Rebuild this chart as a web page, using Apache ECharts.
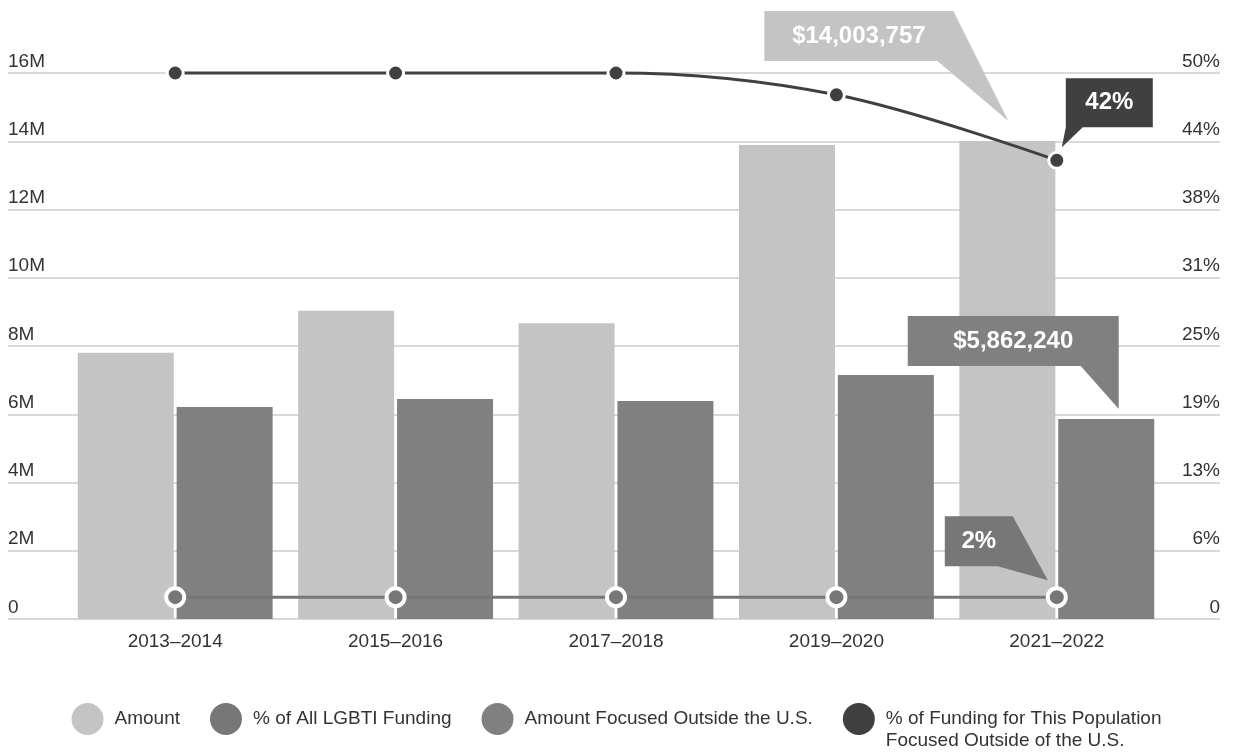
<!DOCTYPE html>
<html>
<head>
<meta charset="utf-8">
<script src="https://cdn.jsdelivr.net/npm/echarts@6/dist/echarts.min.js"></script>
<style>
html,body{margin:0;padding:0;background:#fff;}
#chart{width:1233px;height:753px;}
</style>
</head>
<body>
<div id="chart"></div>
<script>
// ---- data ----
const categories = ['2013–2014', '2015–2016', '2017–2018', '2019–2020', '2021–2022'];
const amount = [7800000, 9030000, 8670000, 13890000, 14003757];
const amountOutside = [6210000, 6450000, 6390000, 7150000, 5862240];
const pctAllLgbti = [2, 2, 2, 2, 2];
const pctOutside = [50, 50, 50, 48, 42];
const leftTicks = [0, 2, 4, 6, 8, 10, 12, 14, 16];           // millions
const rightTicks = ['0', '6%', '13%', '19%', '25%', '31%', '38%', '44%', '50%'];
const seriesNames = [
  'Amount',
  '% of All LGBTI Funding',
  'Amount Focused Outside the U.S.',
  '% of Funding for This Population\nFocused Outside of the U.S.'
];

const last = categories.length - 1;
const FONT = "'Liberation Sans', Arial, Helvetica, sans-serif";
const fmtMoney = v => '$' + Math.round(v).toLocaleString('en-US');

const calloutLabel = (offset, fmt) => ({
  show: true, position: 'inside', offset: offset,
  color: '#fff', fontSize: 24, fontWeight: 'bold', fontFamily: FONT,
  formatter: p => fmt(p.value)
});

const chart = echarts.init(document.getElementById('chart'), null, {renderer: 'canvas'});
chart.setOption({
  animation: false,
  textStyle: {fontFamily: FONT},
  grid: [
    {left: 65, right: 66, top: 73, bottom: 134},
    {left: 8, right: 13, top: 73, bottom: 134}
  ],
  xAxis: [
    {
      type: 'category', gridIndex: 0, data: categories,
      axisLine: {show: false}, axisTick: {show: false},
      axisLabel: {color: '#333', fontSize: 19, margin: 13}
    },
    {type: 'value', gridIndex: 1, min: 0, max: 1, show: false}
  ],
  yAxis: [
    {
      type: 'value', gridIndex: 1, position: 'left',
      min: 0, max: leftTicks[leftTicks.length - 1] * 1e6, interval: 2e6,
      axisLine: {show: false}, axisTick: {show: false},
      splitLine: {lineStyle: {color: '#d9d9d9', width: 2}},
      axisLabel: {
        inside: true, margin: 0, verticalAlign: 'bottom', padding: [0, 0, 2, 0],
        color: '#333', fontSize: 19,
        formatter: v => { const m = Math.round(v / 1e6); return m === 0 ? '0' : m + 'M'; }
      }
    },
    {
      type: 'value', gridIndex: 1, position: 'right',
      min: 0, max: 8, interval: 1,
      axisLine: {show: false}, axisTick: {show: false}, splitLine: {show: false},
      axisLabel: {
        inside: true, margin: 0, verticalAlign: 'bottom', padding: [0, 0, 2, 0],
        color: '#333', fontSize: 19,
        formatter: v => rightTicks[Math.round(v)]
      }
    },
    {type: 'value', gridIndex: 0, min: 0, max: 16e6, show: false},
    {type: 'value', gridIndex: 0, min: 0, max: 50, show: false}
  ],
  legend: {
    data: seriesNames,
    left: 'center', top: 686, padding: 0,
    icon: 'circle', itemWidth: 32, itemHeight: 32, itemGap: 30,
    itemStyle: {borderWidth: 0},
    // multi-line names: a leading empty line keeps the first line level with the icon
    formatter: name => name.indexOf('\n') >= 0 ? '\n' + name : name,
    textStyle: {color: '#333', fontSize: 19, lineHeight: 22, padding: [0, 0, 0, 6]}
  },
  series: [
    {
      name: seriesNames[0], type: 'bar', xAxisIndex: 0, yAxisIndex: 2,
      data: amount, barWidth: 96, barGap: '3%',
      itemStyle: {color: '#c4c4c4'},
      markPoint: {
        data: [{
          coord: [categories[last], amount[last]], value: amount[last],
          symbol: 'path://M0,0 L189,0 L244,110 L173,50 L0,50 Z',
          symbolSize: [244, 110], symbolOffset: [-121, -75],
          itemStyle: {color: '#c4c4c4'},
          label: calloutLabel([-27.5, -30], fmtMoney)
        }]
      }
    },
    {
      name: seriesNames[2], type: 'bar', xAxisIndex: 0, yAxisIndex: 2,
      data: amountOutside, barWidth: 96, barGap: '3%',
      itemStyle: {color: '#808080'},
      markPoint: {
        data: [{
          coord: [categories[last], amountOutside[last]], value: amountOutside[last],
          symbol: 'path://M0,0 L211,0 L211,93 L173,50 L0,50 Z',
          symbolSize: [211, 93], symbolOffset: [-93, -56.5],
          itemStyle: {color: '#808080'},
          label: calloutLabel([0, -21.5], fmtMoney)
        }]
      }
    },
    {
      name: seriesNames[1], type: 'line', xAxisIndex: 0, yAxisIndex: 3,
      data: pctAllLgbti, z: 3,
      color: '#777',
      lineStyle: {color: '#777', width: 3},
      symbol: 'circle', symbolSize: 18, showAllSymbol: true,
      itemStyle: {color: '#777', borderColor: '#fff', borderWidth: 4},
      markPoint: {
        data: [{
          coord: [categories[last], pctAllLgbti[last]], value: pctAllLgbti[last],
          symbol: 'path://M0,0 L68,0 L103,64 L53,50 L0,50 Z',
          symbolSize: [103, 64], symbolOffset: [-60.5, -49],
          itemStyle: {color: '#777'},
          label: calloutLabel([-17.5, -7], v => v + '%')
        }]
      }
    },
    {
      name: seriesNames[3], type: 'line', xAxisIndex: 0, yAxisIndex: 3,
      data: pctOutside, z: 4, smooth: 0.35, clip: false,
      color: '#404040',
      lineStyle: {color: '#404040', width: 3},
      symbol: 'circle', symbolSize: 16, showAllSymbol: true,
      itemStyle: {color: '#404040', borderColor: '#fff', borderWidth: 3},
      markPoint: {
        data: [{
          coord: [categories[last], pctOutside[last]], value: pctOutside[last],
          symbol: 'path://M4,0 L91,0 L91,49 L21,49 L0,69 L4,49 Z',
          symbolSize: [91, 69], symbolOffset: [50.5, -47.5],
          itemStyle: {color: '#404040'},
          label: calloutLabel([2, -10], v => v + '%')
        }]
      }
    }
  ]
});
</script>
</body>
</html>
